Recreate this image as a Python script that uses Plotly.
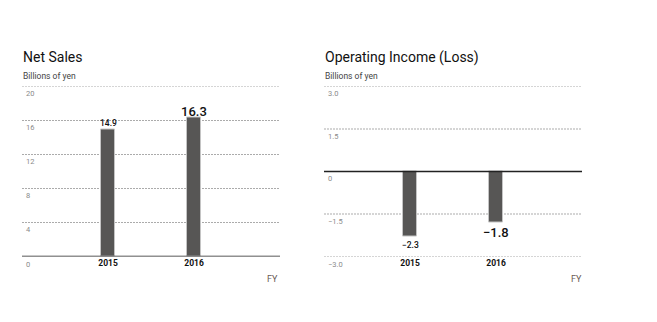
import plotly.graph_objects as go

# Fiscal years and values (billions of yen)
years = ["2015", "2016"]
net_sales = [14.9, 16.3]
operating_income = [-2.3, -1.8]

# Axis ticks for each panel
sales_ticks = [0, 4, 8, 12, 16, 20]
sales_tick_text = ["0", "4", "8", "12", "16", "20"]
income_ticks = [3.0, 1.5, 0, -1.5, -3.0]
income_tick_text = ["3.0", "1.5", "0", "\u22121.5", "\u22123.0"]

# Value labels, last year emphasised
sales_labels = ["14.9", "16.3"]
income_labels = ["\u22122.3", "\u22121.8"]

W, H = 657, 322
FONT = "Roboto, Arial, sans-serif"
TITLE_FONT = "Roboto, Arial, sans-serif"
BAR_COLOR = "#575655"
GRID_COLOR = "#ababab"

def px_x(p):
    return p / W

def px_y(p):
    return 1 - p / H

fig = go.Figure()

fig.add_trace(go.Bar(
    x=years, y=net_sales, xaxis="x", yaxis="y",
    width=0.16, marker=dict(color=BAR_COLOR, line=dict(color="#c4c4c4", width=1)),
    hoverinfo="skip", showlegend=False,
))
fig.add_trace(go.Bar(
    x=years, y=operating_income, xaxis="x2", yaxis="y2",
    width=0.16, marker=dict(color=BAR_COLOR, line=dict(color="#c4c4c4", width=1)),
    hoverinfo="skip", showlegend=False,
))

y_dom = [px_y(256.5), px_y(86.5)]
left_dom = [px_x(22), px_x(280)]
right_dom = [px_x(324), px_x(582)]

xaxis_common = dict(
    type="category", range=[-1, 2], showgrid=False, zeroline=False,
    showline=False, ticks="", ticklen=0,
    tickfont=dict(family=FONT, size=8.5, color="#111", weight="bold"),
    fixedrange=True,
)
yaxis_common = dict(
    showticklabels=False, ticks="", showline=False,
    showgrid=False, zeroline=False, fixedrange=True,
)

fig.update_layout(
    width=W, height=H,
    margin=dict(l=0, r=0, t=0, b=0),
    paper_bgcolor="white", plot_bgcolor="white",
    bargap=0,
    xaxis=dict(domain=left_dom, anchor="y", **xaxis_common),
    yaxis=dict(domain=y_dom, anchor="x", range=[0, 20], **yaxis_common),
    xaxis2=dict(domain=right_dom, anchor="y2", **xaxis_common),
    yaxis2=dict(domain=y_dom, anchor="x2", range=[-3, 3], **yaxis_common),
)

# Gridlines: finely dotted, with a solid baseline at zero
shapes = []
for xax, yax, vals in [("x", "y", sales_ticks), ("x2", "y2", income_ticks)]:
    for v in vals:
        zero = v == 0
        shapes.append(dict(
            type="line", xref=f"{xax} domain", yref=yax, x0=0, x1=1, y0=v, y1=v,
            line=dict(color="#222" if zero else GRID_COLOR,
                      width=1.6 if zero else 1,
                      dash="solid" if zero else "2px,1px"),
            layer="below" if not zero else "above",
        ))

annotations = []

# Panel titles and units
for x0, title in [(22, "Net Sales"), (324, "Operating Income (Loss)")]:
    annotations.append(dict(
        text=title, xref="paper", yref="paper", x=px_x(x0 - 1), y=px_y(57),
        xanchor="left", yanchor="middle", showarrow=False,
        font=dict(family=TITLE_FONT, size=14, color="#111"),
    ))
    annotations.append(dict(
        text="Billions of yen", xref="paper", yref="paper", x=px_x(x0 - 1), y=px_y(75.5),
        xanchor="left", yanchor="middle", showarrow=False,
        font=dict(family=TITLE_FONT, size=8.5, color="#444"),
    ))

# FY captions
for x1 in (280, 584):
    annotations.append(dict(
        text="FY", xref="paper", yref="paper", x=px_x(x1), y=px_y(278.5),
        xanchor="right", yanchor="middle", showarrow=False,
        font=dict(family=TITLE_FONT, size=9, color="#6a5a54"),
    ))

# Tick labels sitting just under each gridline
for yref, xref_px, vals, texts in [
    ("y", 24, sales_ticks, sales_tick_text),
    ("y2", 326, income_ticks, income_tick_text),
]:
    for v, t in zip(vals, texts):
        annotations.append(dict(
            text=t, xref="paper", yref=yref, x=px_x(xref_px), y=v,
            xanchor="left", yanchor="top", yshift=-1, showarrow=False,
            font=dict(family=FONT, size=7.5, color="#8a8a8a"),
        ))

# Bar value labels (category position given by index)
for i, (v, lab) in enumerate(zip(net_sales, sales_labels)):
    big = i == len(years) - 1
    annotations.append(dict(
        text=lab, xref="x", yref="y", x=i, y=v,
        xanchor="center", yanchor="bottom", yshift=-3 if big else 0, showarrow=False,
        font=dict(family=FONT, size=13 if big else 8.5, color="#111", weight=500),
    ))
for i, (v, lab) in enumerate(zip(operating_income, income_labels)):
    big = i == len(years) - 1
    annotations.append(dict(
        text=lab, xref="x2", yref="y2", x=i, y=v,
        xanchor="center", yanchor="top", yshift=-1, showarrow=False,
        font=dict(family=FONT, size=13 if big else 8.5, color="#111", weight=500),
    ))

fig.update_layout(annotations=annotations, shapes=shapes)

fig.write_html("out.html", config={"displayModeBar": False})
